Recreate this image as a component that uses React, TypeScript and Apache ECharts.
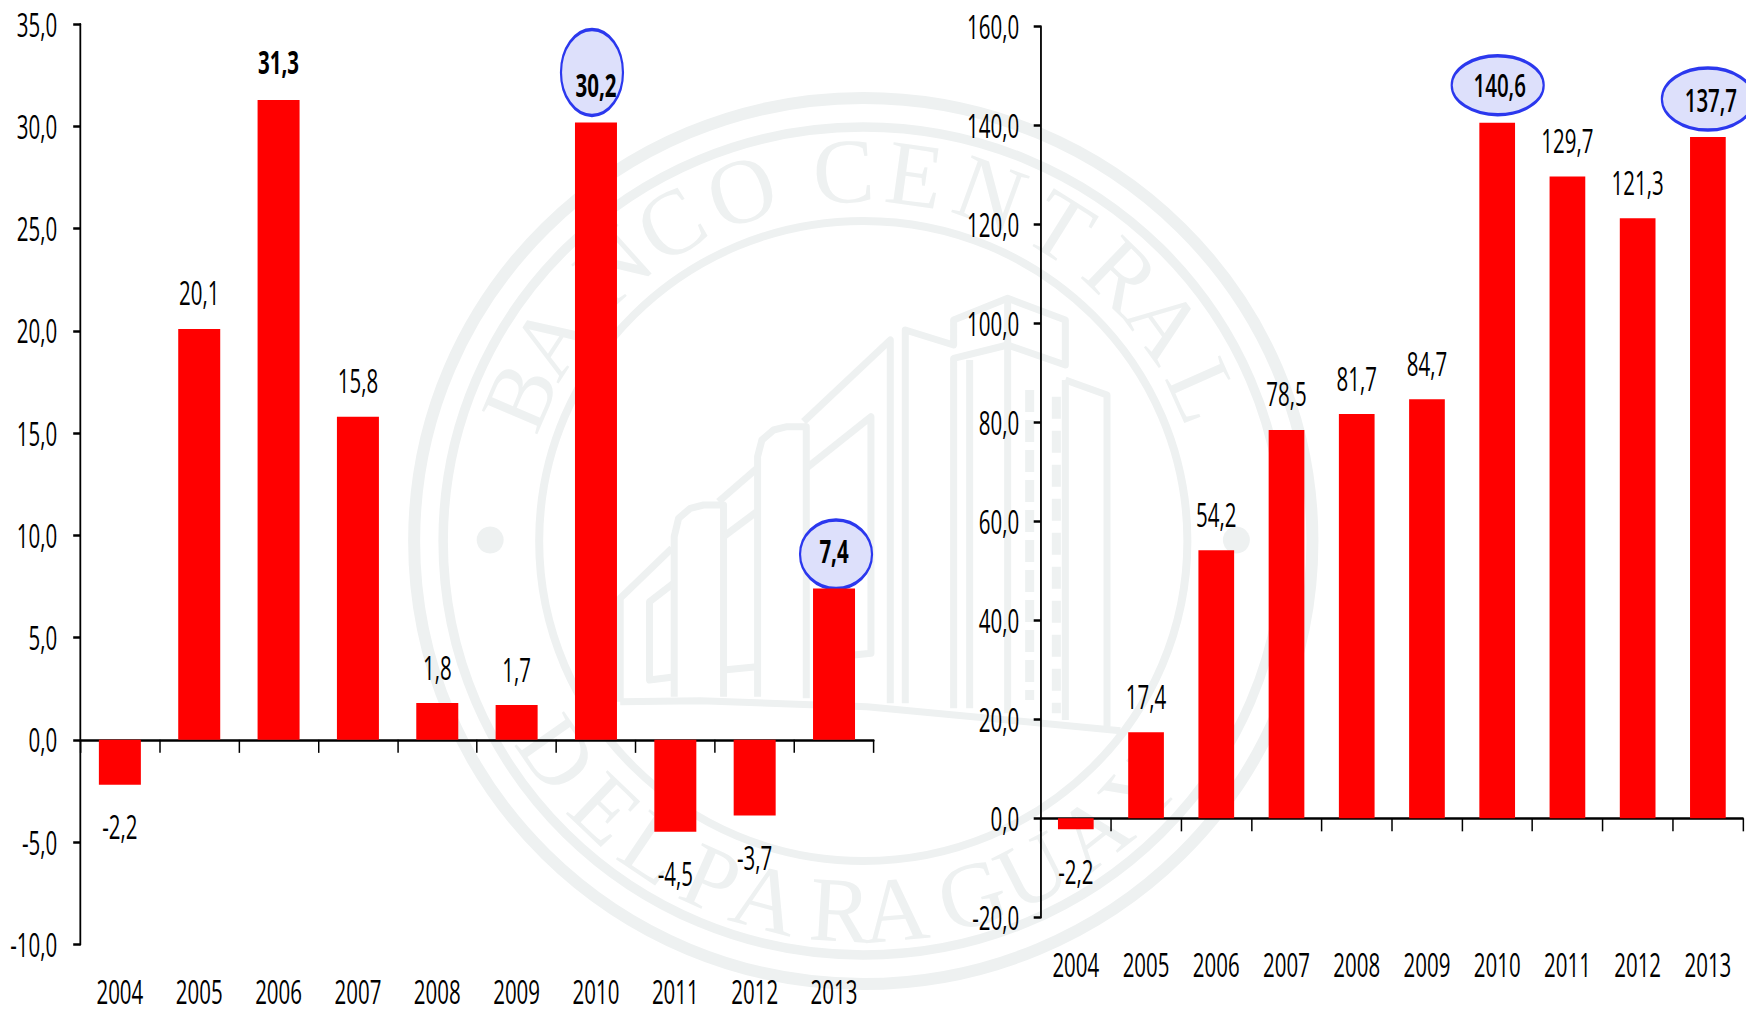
import React, { useEffect, useRef } from "react";
import * as echarts from "echarts";

// ---------- data ----------
const years = ["2004", "2005", "2006", "2007", "2008", "2009", "2010", "2011", "2012", "2013"];
const annualValues = [-2.2, 20.1, 31.3, 15.8, 1.8, 1.7, 30.2, -4.5, -3.7, 7.4];
const cumulativeValues = [-2.2, 17.4, 54.2, 78.5, 81.7, 84.7, 140.6, 129.7, 121.3, 137.7];
const annualBold = ["2006", "2010", "2013"];
const cumulativeBold = ["2010", "2013"];
const watermarkTop = "BANCO CENTRAL".replace(" ", "").split("");
const watermarkTopAngles = [-67, -57, -42, -31, -19, -3, 8, 20, 32, 44, 54, 66];
const watermarkBottom = "DEL PARAGUAY".replace(" ", "").split("");
const watermarkBottomAngles = [-55, -43.6, -34, -24, -15, -3.5, 5, 17, 27, 38, 48];

// ---------- look ----------
const K = 0.64; // the whole picture is horizontally condensed
const W = 1746 / K;
const FONT = "'Open Sans', sans-serif";
const FS = 32;
const RED = "#FF0000";
const WM = "#EEF1F1";
const fmt = (v: number) => v.toFixed(1).replace(".", ",");

const callouts = [
  { grid: 0, year: "2010", dx: -4, gap: 7, rx: 31, ry: 43 },
  { grid: 0, year: "2013", dx: 2, gap: 0, rx: 36, ry: 34.3 },
  { grid: 1, year: "2010", dx: 0.5, gap: 8, rx: 46, ry: 29.5 },
  { grid: 1, year: "2013", dx: 0, gap: 7, rx: 46, ry: 31 },
];

function barData(values: number[], bold: string[], weight: number, labelDx: Record<string, number>) {
  return values.map((v, i) => {
    const isBold = bold.includes(years[i]);
    return {
      value: v,
      label: {
        position: v < 0 ? "bottom" : "top",
        distance: v < 0 ? 26 : isBold ? 22 : 20,
        fontWeight: isBold ? weight : 500,
        offset: [(labelDx[years[i]] || 0) / K, 0],
      },
    };
  });
}

function barSeries(idx: number, xIdx: number, data: any[], width: number) {
  return {
    type: "bar",
    xAxisIndex: xIdx,
    yAxisIndex: idx,
    data,
    barWidth: width / K,
    itemStyle: { color: RED },
    z: 2,
    label: {
      show: true,
      color: "#000",
      fontFamily: FONT,
      fontSize: FS,
      formatter: (p: any) => fmt(p.value),
    },
  };
}

function calloutSeries(idx: number, xIdx: number, values: number[]) {
  const items = callouts.filter((c) => c.grid === idx);
  return {
    type: "custom",
    xAxisIndex: xIdx,
    yAxisIndex: idx,
    z: 1,
    silent: true,
    clip: false,
    data: items.map((c, i) => [years.indexOf(c.year), values[years.indexOf(c.year)], i]),
    renderItem: (_: any, api: any) => {
      const c = items[api.value(2)];
      const p = api.coord([api.value(0), api.value(1)]);
      return {
        type: "ellipse",
        shape: { cx: p[0] + c.dx / K, cy: p[1] - c.gap - c.ry, rx: c.rx / K, ry: c.ry },
        style: { fill: "#DDE0FB", stroke: "#2B38EE", lineWidth: 3.4 },
      };
    },
  };
}

function xAxes(gridIndex: number, margin: number) {
  return [
    {
      type: "category",
      gridIndex,
      data: years,
      axisLine: { show: true, onZero: true, lineStyle: { color: "#000", width: 2.5 } },
      axisTick: { show: true, length: 13, lineStyle: { color: "#000", width: 1.5 / K } },
      axisLabel: { show: false },
      splitLine: { show: false },
    },
    {
      type: "category",
      gridIndex,
      position: "bottom",
      data: years,
      axisLine: { show: false, onZero: false },
      axisTick: { show: false },
      axisLabel: { color: "#000", fontFamily: FONT, fontWeight: 500, fontSize: FS, margin, interval: 0 },
      splitLine: { show: false },
    },
  ];
}

function yAxis(gridIndex: number, min: number, max: number, interval: number, margin: number) {
  return {
    type: "value",
    gridIndex,
    min,
    max,
    interval,
    axisLine: { show: true, onZero: false, lineStyle: { color: "#000", width: 1.8 / K } },
    axisTick: { show: true, length: 7 / K, lineStyle: { color: "#000", width: 2.5 } },
    axisLabel: {
      color: "#000",
      fontFamily: FONT,
      fontWeight: 500,
      fontSize: FS,
      margin: margin / K,
      formatter: (v: number) => fmt(v),
    },
    splitLine: { show: false },
  };
}

// ---------- watermark seal, drawn in real page pixels inside an un-squeezed group ----------
const CX = 863;
const CY = 541;
const ring = (rx: number, ry: number, w: number) => ({
  type: "ellipse",
  z: -5,
  silent: true,
  shape: { cx: CX, cy: CY, rx, ry },
  style: { fill: "none", stroke: WM, lineWidth: w },
});
const zp = (pts: number[][]) => pts.map(([x, y]) => [600 + x / 3, 280 + y / 3]);
const line = (pts: number[][], w = 7, dash?: number[]) => ({
  type: "polyline",
  z: -5,
  silent: true,
  shape: { points: zp(pts) },
  style: { fill: "none", stroke: WM, lineWidth: w, lineDash: dash, lineJoin: "round" },
});
const buildingLines = [
  [[60, 1265], [300, 1262], [800, 1280], [1560, 1352]],
  [[60, 1265], [60, 955], [215, 805]],
  [[222, 1250], [222, 770], [235, 715], [270, 685], [310, 675], [370, 675], [370, 1250]],
  [[355, 665], [470, 565]],
  [[472, 1250], [472, 530], [485, 480], [520, 450], [560, 440], [618, 440], [618, 1255]],
  [[610, 425], [870, 180], [870, 1270]],
  [[225, 1190], [148, 1200], [148, 965], [220, 910]],
  [[370, 770], [470, 695]],
  [[370, 1170], [470, 1160]],
  [[618, 565], [812, 410], [812, 1120], [760, 1125]],
  [[915, 1270], [915, 150], [1060, 195], [1060, 120], [1222, 55], [1395, 120], [1395, 255], [1222, 195], [1060, 235], [1060, 1285]],
  [[1108, 240], [1108, 1285]],
  [[1222, 60], [1222, 1300]],
  [[1395, 300], [1520, 345], [1520, 1340]],
  [[1395, 300], [1395, 1320]],
];
const rad = (d: number) => (d * Math.PI) / 180;
const letter = (t: string, x: number, y: number, rotation: number) => ({
  type: "text",
  z: -5,
  silent: true,
  x,
  y,
  rotation,
  style: {
    text: t,
    fill: WM,
    font: "92px 'Liberation Serif', serif",
    textAlign: "center",
    textVerticalAlign: "middle",
    verticalAlign: "middle",
  },
});
const watermark = {
  type: "group",
  x: 0,
  y: 0,
  scaleX: 1 / K,
  silent: true,
  children: [
    ring(449, 443, 12),
    ring(420, 414, 9.5),
    ring(324, 320, 8),
    { type: "circle", z: -5, silent: true, shape: { cx: 490, cy: 540, r: 13.5 }, style: { fill: WM } },
    { type: "circle", z: -5, silent: true, shape: { cx: 1236, cy: 540, r: 13.5 }, style: { fill: WM } },
    ...buildingLines.map((p) => line(p)),
    line([[1288, 330], [1288, 1260]], 9, [22, 8]),
    line([[1368, 350], [1368, 1300]], 9, [22, 12]),
    ...watermarkTop.map((t, i) => {
      const a = rad(watermarkTopAngles[i]);
      return letter(t, CX + 373 * Math.sin(a), CY - 370 * Math.cos(a), -a);
    }),
    ...watermarkBottom.map((t, i) => {
      const a = rad(watermarkBottomAngles[i]);
      return letter(t, CX + 373 * Math.sin(a), CY + 370 * Math.cos(a), a);
    }),
  ],
};

export default function App() {
  const ref = useRef<HTMLDivElement>(null);
  useEffect(() => {
    const chart = echarts.init(ref.current!, undefined, { renderer: "svg" });
    chart.setOption({
      animation: false,
      backgroundColor: "#fff",
      graphic: { elements: [watermark] },
      grid: [
        { left: 80.2 / K, width: 793.5 / K, top: 24.3, height: 920 },
        { left: 1040.7 / K, width: 702.3 / K, top: 26.7, height: 890.6 },
      ],
      xAxis: [...xAxes(0, 31), ...xAxes(1, 31)],
      yAxis: [yAxis(0, -10, 35, 5, 23), yAxis(1, -20, 160, 20, 21.5)],
      series: [
        calloutSeries(0, 0, annualValues),
        barSeries(0, 0, barData(annualValues, annualBold, 700, {}), 42),
        calloutSeries(1, 2, cumulativeValues),
        barSeries(1, 2, barData(cumulativeValues, cumulativeBold, 600, { "2010": 2.5, "2013": 3 }), 35.7),
      ],
    });
    return () => chart.dispose();
  }, []);
  return (
    <div style={{ position: "absolute", left: 0, top: 0, width: 1746, height: 1010, overflow: "hidden" }}>
      <div
        ref={ref}
        style={{ width: W, height: 1010, transform: `scaleX(${K})`, transformOrigin: "0 0" }}
      />
    </div>
  );
}
